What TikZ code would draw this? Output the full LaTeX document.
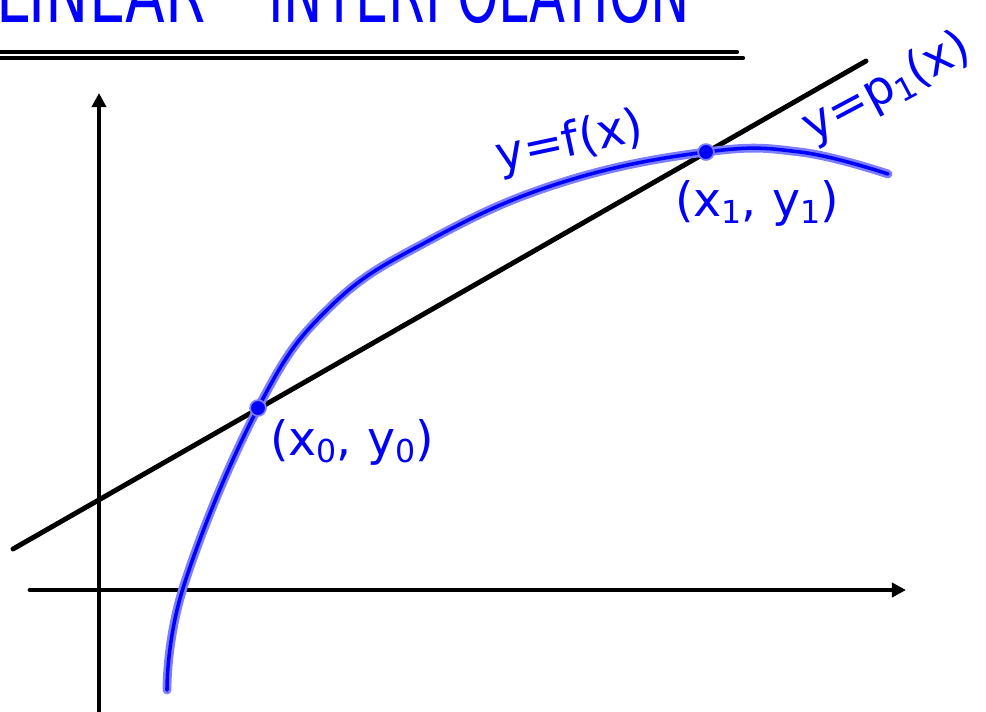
\documentclass[tikz,border=0pt]{standalone}
\usepackage{fontspec}
\setmainfont{DejaVu Sans}
\usetikzlibrary{arrows.meta}
\definecolor{pen}{RGB}{0,0,255}
\definecolor{halo}{RGB}{125,125,255}
\newcommand{\lowidx}[1]{\raisebox{-0.3ex}{\fontsize{18}{18}\selectfont #1}}
\tikzset{
  axis/.style={line width=2.8pt,-{Triangle[length=8pt,width=8pt]}},
  blackline/.style={line width=2.8pt,line cap=round},
  ruleline/.style={line width=2.4pt,line cap=round},
  halopen/.style={line width=5pt,halo,line cap=round,line join=round},
  corepen/.style={line width=2pt,pen,line cap=round,line join=round},
  label/.style={text=pen,font=\fontsize{27}{30}\selectfont,inner sep=0pt},
  title/.style={text=pen,font=\fontsize{30}{34}\selectfont,inner sep=0pt,anchor=base west,yscale=1.5},
  dot/.style={circle,fill=pen,draw=halo,line width=1pt,minimum size=9pt,inner sep=0pt}
}
\begin{document}
\begin{tikzpicture}[x=0.02cm,y=-0.02cm]
\useasboundingbox (0,0) rectangle (986,711);
% title (cut off at the top)
\node[title,xscale=1.1] (t1) at (-4,22) {LINEAR};
\node[title] (t2) at (268,22) {INTERPOLATION};
\draw[ruleline] (-10,52) -- (737,52);
\draw[ruleline] (-10,58) -- (743,58);
% axes
\coordinate (yb) at (99,712);
\coordinate (yt) at (99,93);
\coordinate (xl) at (30,590);
\coordinate (xr) at (906,590);
\draw[axis] (yb) -- (yt);
\draw[axis,line cap=round] (xl) -- (xr);
% secant line
\coordinate (la) at (13,549);
\coordinate (lb) at (866,61);
\draw[blackline] (la) -- (lb);
% curve
\def\curve{plot[smooth,tension=0.7] coordinates {(167,690) (184,585) (258,408) (330,307) (430,240) (560,183) (706,152) (800,152) (888,174)}}
\draw[halopen] \curve;
\draw[corepen] \curve;
% interpolation points
\node[dot] (p0) at (258,408) {};
\node[dot] (p1) at (706,152) {};
% labels
\node[label] (l0) at (352,442) {(x\lowidx{0}, y\lowidx{0})};
\node[label] (l1) at (757,203) {(x\lowidx{1}, y\lowidx{1})};
\node[label,rotate=12] (lf) at (570,143) {y=f(x)};
\node[label,rotate=28] (lp) at (887,88) {y=p\lowidx{1}(x)};
\end{tikzpicture}
\end{document}
